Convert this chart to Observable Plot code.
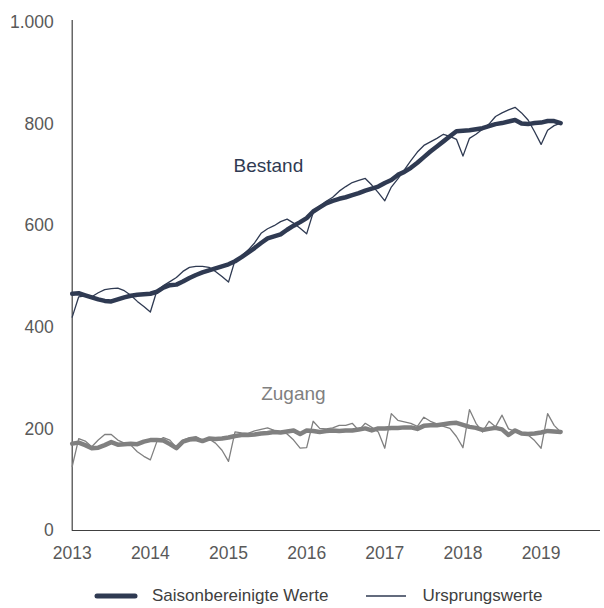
<!DOCTYPE html>
<html><head><meta charset="utf-8">
<script src="https://cdn.jsdelivr.net/npm/d3@7"></script>
<script src="https://cdn.jsdelivr.net/npm/@observablehq/plot@0.6"></script>
<style>
body{margin:0;background:#fff;font-family:"Liberation Sans",Arial,sans-serif;}
#legend{display:flex;align-items:center;height:24px;padding-top:16px;padding-left:94px;font-size:17px;color:#404040;}
#legend svg{display:block}
</style></head><body>
<div id="chart"></div>
<div id="legend"></div>
<script>
const startYear = 2013;
const xTicks = [2013, 2014, 2015, 2016, 2017, 2018, 2019];
const yTicks = [0, 200, 400, 600, 800, 1000];
const seriesNames = ["Saisonbereinigte Werte", "Ursprungswerte"];
const labelText = ["Bestand", "Zugang"];
const labelX = [2015.51, 2015.83];
const labelY = [718, 268];

// Bestand, monthly Jan 2013 – Apr 2019
const bestandSA = [
  466, 467, 463, 459, 455, 452, 451, 455, 459, 462, 464, 465,
  466, 470, 478, 483, 484, 490, 497, 503, 508, 512, 516, 520,
  524, 530, 538, 547, 556, 566, 575, 579, 583, 592, 600, 607,
  615, 628, 636, 644, 649, 653, 656, 660, 664, 669, 673, 677,
  684, 690, 700, 706, 714, 724, 735, 746, 756, 766, 776, 786,
  787, 788, 790, 792, 796, 800, 802, 805, 808, 801, 800, 802,
  803, 806, 806, 802
];
const bestandOrig = [
  420, 460, 462, 460, 468, 474, 476, 477, 472, 463, 451, 441,
  430, 472, 482, 490, 498, 510, 518, 520, 520, 518, 510, 500,
  489, 532, 540, 552, 566, 585, 594, 600, 608, 613, 605, 595,
  584, 626, 638, 648, 656, 668, 677, 685, 689, 693, 680, 665,
  649, 676, 692, 710, 728, 745, 758, 765, 772, 780, 776, 770,
  737, 772, 780, 790, 800, 815, 822, 828, 833, 822, 808, 785,
  760, 788, 797, 802
];
// Zugang, monthly Jan 2013 – Apr 2019
const zugangSA = [
  171, 173, 168, 162, 163, 168, 174, 169, 170, 171, 170, 175,
  178, 178, 177, 170, 162, 175, 179, 180, 176, 181, 180, 181,
  183, 186, 188, 188, 189, 191, 192, 194, 193, 195, 197, 190,
  197, 196, 194, 196, 197, 196, 197, 197, 199, 201, 197, 201,
  201, 202, 202, 203, 203, 200, 206, 207, 207, 209, 211, 212,
  208, 204, 202, 198, 200, 202, 199, 188, 197, 191, 190, 191,
  193, 196, 195, 194
];
const zugangOrig = [
  126, 181, 176, 165, 178, 189, 189, 178, 172, 168, 155, 146,
  139, 175, 183, 178, 163, 178, 183, 185, 178, 180, 172, 158,
  136, 194, 192, 191, 196, 199, 202, 197, 194, 190, 178, 162,
  163, 215, 201, 200, 202, 207, 207, 211, 197, 211, 203, 194,
  162, 230, 217, 214, 211, 205, 223, 215, 210, 205, 201, 185,
  163, 238, 211, 194, 215, 204, 227, 200, 195, 192, 188, 177,
  162, 230, 207, 194
];

const navy = "#2f3a52";
const gray = "#808080";
const toRows = arr => arr.map((v, i) => ({t: startYear + i / 12, v}));
const labels = labelText.map((text, i) => ({text, x: labelX[i], y: labelY[i]}));
const xEnd = 2019.76;

const de = d3.formatLocale({decimal: ",", thousands: ".", grouping: [3], currency: ["", "€"]});
const fmt = de.format(",");

const plot = Plot.plot({
  width: 604,
  height: 568,
  marginLeft: 71.7,
  marginRight: 4,
  marginTop: 22,
  marginBottom: 38,
  style: {fontFamily: "Liberation Sans, Arial, sans-serif", fontSize: "17.5px", color: "#595959", background: "white", overflow: "visible"},
  x: {domain: [2013, xEnd]},
  y: {domain: [0, 1000]},
  marks: [
    Plot.axisX(xTicks, {tickSize: 0, tickPadding: 16, tickFormat: d => String(d), label: null}),
    Plot.axisY(yTicks, {tickSize: 0, tickPadding: 18.5, tickFormat: fmt, label: null}),
    Plot.ruleX([2013], {y1: 0, y2: 1004, stroke: "#404040", strokeWidth: 1.2}),
    Plot.ruleY([0], {x1: 2013, x2: xEnd, stroke: "#404040", strokeWidth: 1.2}),
    Plot.line(toRows(bestandOrig), {x: "t", y: "v", stroke: navy, strokeWidth: 1.3, strokeLinejoin: "round"}),
    Plot.line(toRows(zugangOrig), {x: "t", y: "v", stroke: gray, strokeWidth: 1.3, strokeLinejoin: "round"}),
    Plot.line(toRows(bestandSA), {x: "t", y: "v", stroke: navy, strokeWidth: 4.5, strokeLinejoin: "round", strokeLinecap: "round"}),
    Plot.line(toRows(zugangSA), {x: "t", y: "v", stroke: gray, strokeWidth: 4.5, strokeLinejoin: "round", strokeLinecap: "round"}),
    Plot.text(labels, {x: "x", y: "y", text: "text", fontSize: 19, textAnchor: "middle",
      fill: (d, i) => i === 0 ? navy : gray})
  ]
});
document.getElementById("chart").appendChild(plot);

const legend = document.getElementById("legend");
legend.innerHTML =
  `<svg width="44" height="10"><line x1="3" x2="41" y1="5" y2="5" stroke="${navy}" stroke-width="5" stroke-linecap="round"/></svg>` +
  `<span style="margin-left:14px">${seriesNames[0]}</span>` +
  `<svg width="44" height="10" style="margin-left:36px"><line x1="2" x2="42" y1="5" y2="5" stroke="${navy}" stroke-width="1.3"/></svg>` +
  `<span style="margin-left:14px">${seriesNames[1]}</span>`;
</script>
</body></html>
